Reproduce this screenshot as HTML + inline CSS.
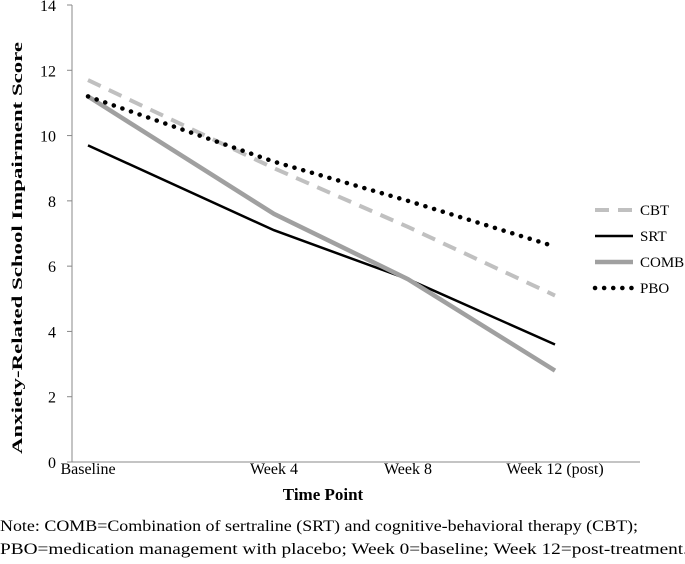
<!DOCTYPE html>
<html><head><meta charset="utf-8">
<style>
body{margin:0;background:#fff;width:685px;height:559px;overflow:hidden;font-family:"Liberation Serif",serif;}
svg text{font-family:"Liberation Serif",serif;}
</style></head>
<body>
<svg id="chart" width="685" height="559" viewBox="0 0 685 559" xmlns="http://www.w3.org/2000/svg"></svg>
<script>
const categories = ["Baseline","Week 4","Week 8","Week 12 (post)"];
const yTicks = [0,2,4,6,8,10,12,14];
const cbt = [11.7, 9.0, 7.2, 5.1];
const srt = [9.7, 7.1, 5.6, 3.6];
const comb = [11.2, 7.6, 5.6, 2.8];
const pbo = [11.2, 9.2, 8.0, 6.6];

const svg = document.getElementById('chart');
const NS = 'http://www.w3.org/2000/svg';
const catPx = [88, 274, 408, 555];
function x(i){ return catPx[i]; }
function y(v){ return 462 - v * (457/14); }
function mk(tag, attrs, parent){
  const e = document.createElementNS(NS, tag);
  for (const k in attrs) e.setAttribute(k, attrs[k]);
  (parent||svg).appendChild(e);
  return e;
}
let a = mk('line',{x1:72,y1:5,x2:72,y2:462,stroke:'#888','stroke-width':1});


a = mk('line',{x1:72,y1:462,x2:640,y2:462,stroke:'#888','stroke-width':1});


yTicks.forEach(t=>{
  const tk = mk('line',{x1:67,y1:y(t),x2:72,y2:y(t),stroke:'#888'});
  
  
  const tl = mk('text',{x:56,y:y(t)+6,'text-anchor':'end','font-size':16});
  tl.textContent = t;
  
  
});
categories.forEach((c,i)=>{
  const tl = mk('text',{x:x(i),y:474,'text-anchor':'middle','font-size':16});
  tl.textContent = c;
  
  
});
const series = [
  {name:'CBT', data:cbt, stroke:'#c0c0c0', w:4, dash:'14,9', cap:'butt'},
  {name:'SRT', data:srt, stroke:'#000', w:2.5, dash:'', cap:'butt'},
  {name:'COMB', data:comb, stroke:'#a0a0a0', w:4.5, dash:'', cap:'butt'},
  {name:'PBO', data:pbo, stroke:'#000', w:4.5, dash:'0.1,9', cap:'round'}
];
series.forEach((s,k)=>{
  const d = s.data.map((v,i)=>(i?'L':'M')+x(i)+','+y(v)).join(' ');
  const p = mk('path',{d:d,fill:'none',stroke:s.stroke,'stroke-width':s.w,'stroke-dasharray':s.dash,'stroke-linecap':s.cap});
  
  
  const ly = 210 + k*26;
  const g = mk('g',{});
  
  
  mk('line',{x1:595,y1:ly,x2:633,y2:ly,stroke:s.stroke,'stroke-width':s.w,'stroke-dasharray':s.dash,'stroke-linecap':s.cap},g);
  const t = mk('text',{x:640,y:ly+5,'font-size':15},g);
  t.textContent = s.name;
});
let t = mk('text',{x:0,y:0,'font-size':15,'font-weight':'bold','text-anchor':'middle',textLength:412,lengthAdjust:'spacingAndGlyphs',transform:'translate(22,248) rotate(-90)'});
t.textContent = 'Anxiety-Related School Impairment Score';


t = mk('text',{x:323,y:500,'font-size':17,'font-weight':'bold','text-anchor':'middle'});
t.textContent = 'Time Point';


t = mk('text',{x:0,y:531,'font-size':16,textLength:638,lengthAdjust:'spacingAndGlyphs'});
t.textContent = 'Note: COMB=Combination of sertraline (SRT) and cognitive-behavioral therapy (CBT);';


t = mk('text',{x:0,y:554,'font-size':16,textLength:688,lengthAdjust:'spacingAndGlyphs'});
t.textContent = 'PBO=medication management with placebo; Week 0=baseline; Week 12=post-treatment.';


</script>
</body></html>
